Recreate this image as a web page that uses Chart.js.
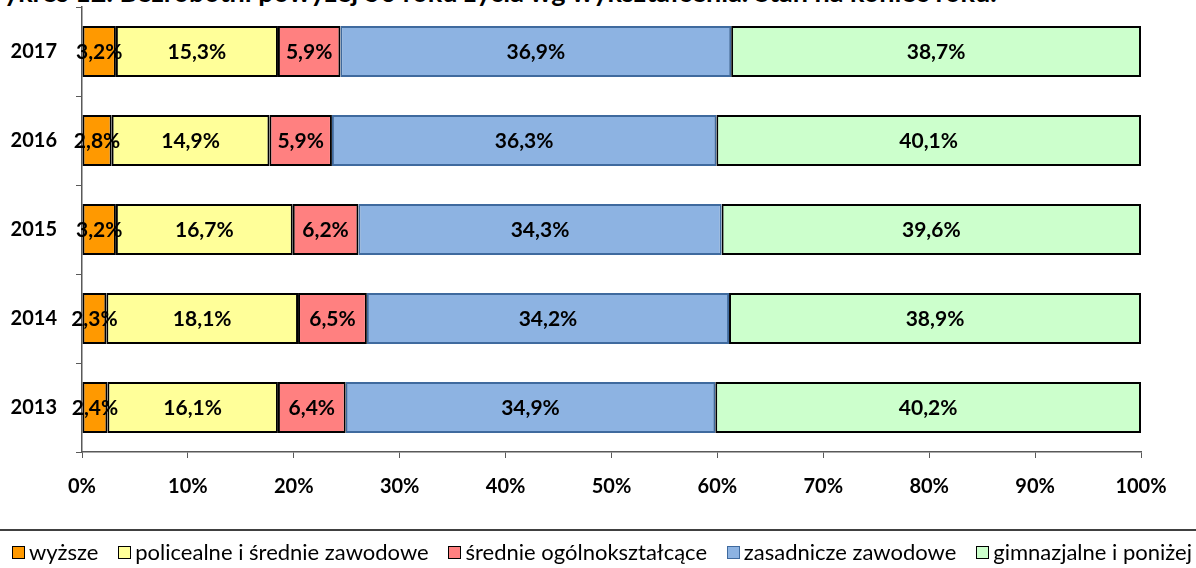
<!DOCTYPE html>
<html><head><meta charset="utf-8">
<script src="https://cdn.jsdelivr.net/npm/chart.js@4.4.1/dist/chart.umd.min.js"></script>
<style>
html,body{margin:0;padding:0;background:#fff;overflow:hidden;width:1196px;height:568px;}
#wrap{position:relative;width:1196px;height:568px;overflow:hidden;}
#title{position:absolute;left:-24px;top:-22px;font:bold 27px Lato;line-height:27px;white-space:nowrap;color:#000;}
#cv{position:absolute;left:0;top:0;}
#sep{position:absolute;left:0;top:529px;width:1196px;height:0;border-top:2px solid #404040;}
#legend{position:absolute;left:12px;top:540px;width:1180px;display:flex;justify-content:space-between;font:22px Lato;color:#000;line-height:24px;}
#legend .it{display:flex;align-items:center;white-space:nowrap;}
#legend .bx{width:11px;height:11px;border:1.5px solid #000;margin-right:4px;}
</style>
</head><body>
<div id="wrap">
<div id="title">Wykres 12. Bezrobotni powyżej 50 roku życia wg wykształcenia. Stan na koniec roku.</div>
<canvas id="cv" width="1196" height="530"></canvas>
<div id="sep"></div>
<div id="legend"></div>
</div>
<script>
const years = ['2017','2016','2015','2014','2013'];
const seriesNames = ['wyższe','policealne i średnie zawodowe','średnie ogólnokształcące','zasadnicze zawodowe','gimnazjalne i poniżej'];
const wyzsze = [3.2, 2.8, 3.2, 2.3, 2.4];
const policealne = [15.3, 14.9, 16.7, 18.1, 16.1];
const srednieOgolne = [5.9, 5.9, 6.2, 6.5, 6.4];
const zasadnicze = [36.9, 36.3, 34.3, 34.2, 34.9];
const gimnazjalne = [38.7, 40.1, 39.6, 38.9, 40.2];
const xTicks = [0,10,20,30,40,50,60,70,80,90,100];

const fills = ['#FF9900','#FFFF99','#FF8080','#8DB3E2','#CCFFCC'];
const borders = ['#000000','#000000','#000000','#3F6A9E','#000000'];
const values = [wyzsze, policealne, srednieOgolne, zasadnicze, gimnazjalne];

const datasets = values.map((v,i)=>({
  label: seriesNames[i], data: v, backgroundColor: fills[i], borderColor: borders[i],
  borderWidth: 2, borderSkipped: false, barPercentage: 0.575, categoryPercentage: 1
}));

const fmt = v => v.toFixed(1).replace('.', ',') + '%';

const labelPlugin = {
  id: 'barLabels',
  afterDatasetsDraw(chart) {
    const ctx = chart.ctx;
    ctx.save();
    ctx.font = 'bold 21px Lato';
    ctx.fillStyle = '#000';
    ctx.textAlign = 'center';
    ctx.textBaseline = 'middle';
    chart.data.datasets.forEach((ds, di) => {
      const meta = chart.getDatasetMeta(di);
      meta.data.forEach((bar, j) => {
        const cx = (bar.x + bar.base) / 2;
        ctx.fillText(fmt(ds.data[j]), cx, bar.y + 1);
      });
    });
    ctx.restore();
  }
};

const axisColor = '#595959';
new Chart(document.getElementById('cv'), {
  type: 'bar',
  data: { labels: years, datasets },
  options: {
    indexAxis: 'y', responsive: false, animation: false,
    layout: { padding: { top: 7, right: 55, left: 0, bottom: 0 } },
    plugins: { legend: { display: false }, tooltip: { enabled: false } },
    scales: {
      x: {
        stacked: true, min: 0, max: 100,
        afterBuildTicks: s => { s.ticks = xTicks.map(v => ({ value: v })); },
        afterFit: s => { s.height = 78; },
        ticks: { callback: v => v + '%', color: '#000', font: { family: 'Lato', weight: 'bold', size: 20 }, padding: 17, maxRotation: 0 },
        grid: { drawOnChartArea: false, drawTicks: true, tickLength: 6, color: axisColor, lineWidth: 1 },
        border: { color: axisColor, width: 1.5 }
      },
      y: {
        stacked: true,
        afterFit: s => { s.width = 82; s.paddingTop = 0; s.paddingBottom = 0; },
        ticks: { color: '#000', font: { family: 'Lato', weight: 'bold', size: 20 }, padding: 19 },
        grid: { offset: true, drawOnChartArea: false, drawTicks: true, tickLength: 6, color: axisColor, lineWidth: 1 },
        border: { color: axisColor, width: 1.5 }
      }
    }
  },
  plugins: [labelPlugin]
});

const lg = document.getElementById('legend');
seriesNames.forEach((n, i) => {
  const it = document.createElement('div'); it.className = 'it';
  const bx = document.createElement('div'); bx.className = 'bx';
  bx.style.background = fills[i]; bx.style.borderColor = borders[i] === '#000000' ? '#000' : borders[i];
  const t = document.createElement('span'); t.textContent = n;
  it.appendChild(bx); it.appendChild(t); lg.appendChild(it);
});
</script>
</body></html>
